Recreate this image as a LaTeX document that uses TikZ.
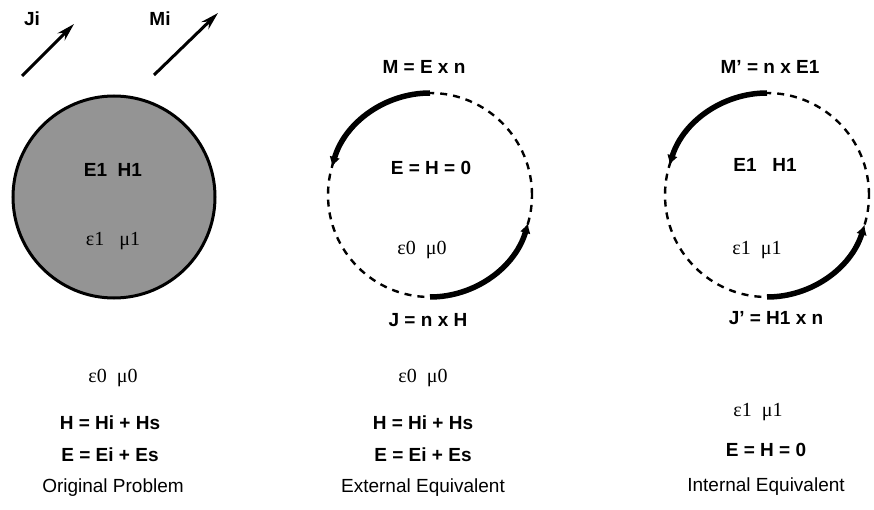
\documentclass[tikz,border=0pt]{standalone}
\usepackage{fontspec}
\setmainfont{Liberation Sans}
\newfontfamily\serifgr{Liberation Serif}
\usetikzlibrary{arrows.meta}
\begin{document}
\begin{tikzpicture}[x=1pt,y=-1pt,
  lbl/.style={font=\bfseries\fontsize{19}{21}\selectfont, inner sep=0pt},
  gr/.style={font=\serifgr\fontsize{20}{22}\selectfont, inner sep=0pt},
  capt/.style={font=\fontsize{19}{21}\selectfont, inner sep=0pt},
  surf/.style={draw, line width=2.4pt, dash pattern=on 7pt off 6pt},
  cur/.style={line width=5.5pt, -{Latex[length=10pt,width=11pt]}},
  inc/.style={line width=3pt, -{Stealth[length=18pt,width=10pt]}}]
\useasboundingbox (0,0) rectangle (874,510);

% original problem
\node[circle, draw, line width=3pt, fill=black!42, minimum size=202pt, inner sep=0pt] (c1) at (114,197) {};
\node[lbl] (ji) at (32,19) {Ji};
\node[lbl] (mi) at (160,19) {Mi};
\coordinate (ja) at (22,76);
\coordinate (jb) at (74,24);
\coordinate (ma) at (154,75);
\coordinate (mb) at (218,13);
\draw[inc] (ja) -- (jb);
\draw[inc] (ma) -- (mb);
\node[lbl] (eh1) at (113,170) {E1\ \ H1};
\node[gr] (g1) at (113,241) {ε1\ \ \ μ1};
\node[gr] (b1a) at (113,378) {ε0\ \ μ0};
\node[lbl] (b1b) at (110,423) {H = Hi + Hs};
\node[lbl] (b1c) at (110,455) {E = Ei + Es};
\node[capt] (b1d) at (113,488) {Original Problem};

% external equivalent
\node[circle, surf, minimum size=204pt, inner sep=0pt] (c2) at (430,195) {};
\draw[cur] ([shift={(90:102pt)}]c2.center) arc[start angle=90, end angle=164, radius=102pt];
\draw[cur] ([shift={(270:102pt)}]c2.center) arc[start angle=270, end angle=344, radius=102pt];
\node[lbl] (m2) at (424,67) {M = E x n};
\node[lbl] (e2) at (431,168) {E = H = 0};
\node[gr] (g2) at (422,250) {ε0\ \ μ0};
\node[lbl] (j2) at (428,320) {J = n x H};
\node[gr] (b2a) at (423,378) {ε0\ \ μ0};
\node[lbl] (b2b) at (423,423) {H = Hi + Hs};
\node[lbl] (b2c) at (423,455) {E = Ei + Es};
\node[capt] (b2d) at (423,488) {External Equivalent};

% internal equivalent
\node[circle, surf, minimum size=204pt, inner sep=0pt] (c3) at (767,195) {};
\draw[cur] ([shift={(90:102pt)}]c3.center) arc[start angle=90, end angle=163, radius=102pt];
\draw[cur] ([shift={(270:102pt)}]c3.center) arc[start angle=270, end angle=343, radius=102pt];
\node[lbl] (m3) at (770,67) {M' = n x E1};
\node[lbl] (e3) at (765,165) {E1\ \ \ H1};
\node[gr] (g3) at (757,250) {ε1\ \ μ1};
\node[lbl] (j3) at (776,318) {J' = H1 x n};
\node[gr] (b3a) at (758,412) {ε1\ \ μ1};
\node[lbl] (b3b) at (766,450) {E = H = 0};
\node[capt] (b3d) at (766,487) {Internal Equivalent};
\end{tikzpicture}
\end{document}
